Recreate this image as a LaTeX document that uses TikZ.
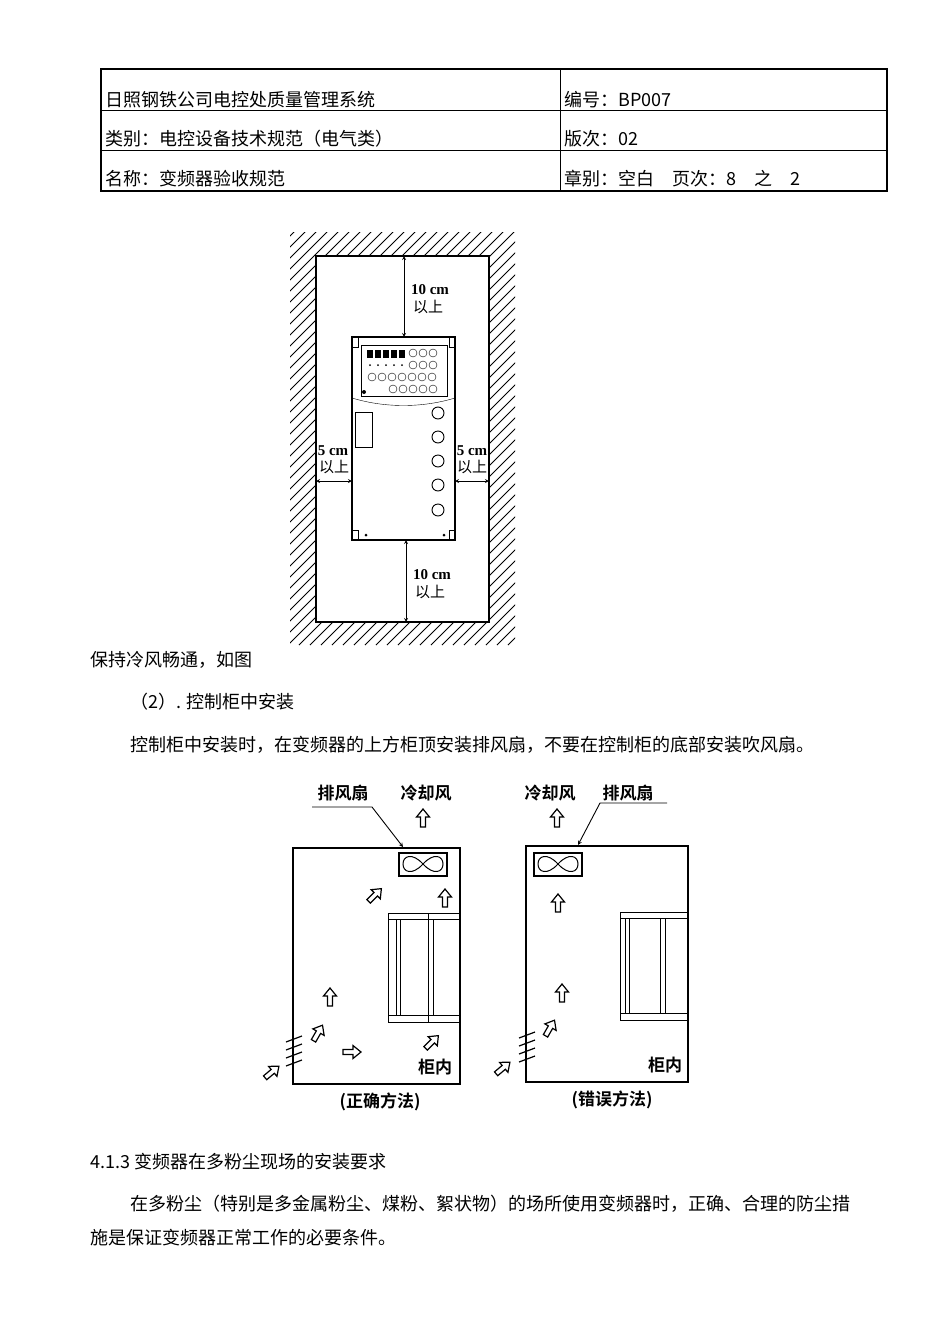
\documentclass[tikz,border=0pt]{standalone}
\usepackage{fontspec}
\setmainfont{Noto Sans CJK SC}
\newfontfamily\cjkb{Noto Sans CJK SC}[BoldFont={* Bold}]
\newfontfamily\serifn{Liberation Serif}
\begin{document}
\begin{tikzpicture}[x=1pt,y=-1pt,
  txt/.style={anchor=west,inner sep=0pt,font=\fontsize{18}{20}\selectfont},
  lab/.style={inner sep=0pt,font=\fontsize{15}{16}\selectfont\bfseries},
  dimarr/.style={<->,>=stealth,line width=0.8pt},
  thk/.style={line width=1.6pt},
  hol/.style={draw,line width=1.2pt,fill=white}]
\useasboundingbox (0,0) rectangle (950,1344);
\newcommand{\harrow}[3]{\draw[hol,shift={(#1,#2)},rotate=#3] (-9,-2.5)--(1,-2.5)--(1,-6.5)--(9,0)--(1,6.5)--(1,2.5)--(-9,2.5)--cycle;}
% header table
\draw[line width=2.5pt] (101,69) rectangle (887,191);
\draw[line width=0.8pt] (101,110)--(887,110) (101,150)--(887,150) (560,69)--(560,191);
\node[txt] (h1) at (105,100) {日照钢铁公司电控处质量管理系统};
\node[txt] (h2) at (105,139) {类别：电控设备技术规范（电气类）};
\node[txt] (h3) at (105,179) {名称：变频器验收规范};
\node[txt] (h4) at (564,100) {编号：BP007};
\node[txt] (h5) at (564,139) {版次：02};
\node[txt] (h6) at (564,179) {章别：空白\quad 页次：8\quad 之\quad 2};
% hatched wall
\begin{scope}
\clip (290,232) rectangle (515,645);
\foreach \i in {0,11,...,660} {\draw[line width=0.9pt] (290+\i-420,645)--(290+\i,225);}
\end{scope}
\fill[white] (316,256) rectangle (489,622);
\draw[thk] (316,256) rectangle (489,622);
% inverter
\draw[thk] (352,337) rectangle (455,540);
\draw[line width=1pt] (361,345) rectangle (447,396);
\draw (352,398) .. controls (385,408) and (422,408) .. (455,398);
\foreach \x in {367,375,383,391,399} {\fill (\x,350) rectangle ++(6,8);}
\foreach \x in {413,423,433} {\draw (\x,353) circle (4); \draw (\x,365) circle (4);}
\foreach \x in {368,376,384,392,400} \fill (\x+2,365) circle (1);
\foreach \x in {372,382,...,433} \draw (\x,377) circle (4);
\foreach \x in {393,403,...,433} \draw (\x,389) circle (4);
\fill (364,392) circle (2);
\draw[line width=1pt] (355,412) rectangle (372,447);
\foreach \y in {413,437,461,485,510} \draw[line width=0.9pt] (438,\y) circle (6);
\fill (366,535) circle (1.5) (444,535) circle (1.5);
\draw (352,530)--(358,530)--(358,540) (455,530)--(449,530)--(449,540);
\draw (352,347)--(358,347)--(358,337) (455,347)--(449,347)--(449,337);
% dims
\coordinate (t1) at (404,256); \coordinate (t2) at (404,337);
\coordinate (b1) at (406,540); \coordinate (b2) at (406,622);
\coordinate (l1) at (316,481); \coordinate (l2) at (352,481);
\coordinate (r1) at (455,481); \coordinate (r2) at (489,481);
\draw[dimarr] (t1)--(t2); \draw[dimarr] (b1)--(b2);
\draw[dimarr] (l1)--(l2); \draw[dimarr] (r1)--(r2);
\node[lab] (d1) at (430,290) {\serifn\bfseries 10 cm};
\node[lab,font=\fontsize{15}{16}\selectfont] (d1b) at (428,307) {以上};
\node[lab] (d2) at (432,575) {\serifn\bfseries 10 cm};
\node[lab,font=\fontsize{15}{16}\selectfont] (d2b) at (430,592) {以上};
\node[lab] (d3) at (333,451) {\serifn\bfseries 5 cm};
\node[lab,font=\fontsize{15}{16}\selectfont] (d3b) at (334,467) {以上};
\node[lab] (d4) at (472,451) {\serifn\bfseries 5 cm};
\node[lab,font=\fontsize{15}{16}\selectfont] (d4b) at (472,467) {以上};
% texts
\node[txt] (p1) at (90,660) {保持冷风畅通，如图};
\node[txt] (p2) at (130,702) {（2）. 控制柜中安装};
\node[txt] (p3) at (130,745) {控制柜中安装时，在变频器的上方柜顶安装排风扇，不要在控制柜的底部安装吹风扇。};
% left cabinet
\draw[thk] (293,848) rectangle (460,1084);
\draw[line width=1.3pt] (399,853) rectangle (447,876);
\draw[line width=1pt] (423,864) .. controls (412,852) and (403,856) .. (403,864) .. controls (403,872) and (412,876) .. (423,864) .. controls (434,852) and (443,856) .. (443,864) .. controls (443,872) and (434,876) .. (423,864);
\draw[line width=1pt] (388,913) rectangle (459,1022) (388,919)--(459,919) (388,1015)--(459,1015)
 (396,919)--(396,1015) (400,919)--(400,1015) (428,913)--(428,1022) (433,919)--(433,1015);
\node[lab,font=\fontsize{17}{18}\selectfont\cjkb\bfseries] (f1) at (343,793) {排风扇};
\node[lab,font=\fontsize{17}{18}\selectfont\cjkb\bfseries] (c1) at (426,793) {冷却风};
\coordinate (u1) at (312,807); \coordinate (u2) at (372,807); \coordinate (u3) at (403,847);
\draw[line width=0.9pt,->,>=stealth] (u1)--(u2)--(u3);
\harrow{423}{818}{90}
\harrow{375}{895}{45} \harrow{445}{898}{90} \harrow{330}{997}{90}
\harrow{318}{1033}{60} \harrow{352}{1052}{0} \harrow{432}{1042}{45} \harrow{272}{1072}{40}
\foreach \y in {1039,1047,1055,1063} \draw[line width=1.2pt] (286,\y+3)--(302,\y-3);
\node[lab,font=\fontsize{17}{18}\selectfont\cjkb\bfseries] (k1) at (435,1067) {柜内};
\node[lab,font=\fontsize{17}{18}\selectfont\cjkb\bfseries] (m1) at (380,1102) {(正确方法)};
% right cabinet
\draw[thk] (526,846) rectangle (688,1082);
\draw[line width=1.3pt] (534,853) rectangle (582,876);
\draw[line width=1pt] (558,864) .. controls (547,852) and (538,856) .. (538,864) .. controls (538,872) and (547,876) .. (558,864) .. controls (569,852) and (578,856) .. (578,864) .. controls (578,872) and (569,876) .. (558,864);
\draw[line width=1pt] (620,912) rectangle (688,1020) (620,918)--(688,918) (620,1013)--(688,1013)
 (625,918)--(625,1013) (629,918)--(629,1013) (660,918)--(660,1013) (665,918)--(665,1013);
\node[lab,font=\fontsize{17}{18}\selectfont\cjkb\bfseries] (c2) at (550,793) {冷却风};
\node[lab,font=\fontsize{17}{18}\selectfont\cjkb\bfseries] (f2) at (628,793) {排风扇};
\coordinate (v1) at (667,803); \coordinate (v2) at (600,803); \coordinate (v3) at (578,845);
\draw[line width=0.9pt,->,>=stealth] (v1)--(v2)--(v3);
\harrow{557}{818}{90}
\harrow{558}{903}{90} \harrow{562}{993}{90} \harrow{550}{1028}{60} \harrow{503}{1068}{40}
\foreach \y in {1035,1043,1051,1059} \draw[line width=1.2pt] (519,\y+3)--(535,\y-3);
\node[lab,font=\fontsize{17}{18}\selectfont\cjkb\bfseries] (k2) at (665,1065) {柜内};
\node[lab,font=\fontsize{17}{18}\selectfont\cjkb\bfseries] (m2) at (612,1100) {(错误方法)};
% bottom text
\node[txt] (q1) at (90,1162) {4.1.3 变频器在多粉尘现场的安装要求};
\node[txt] (q2) at (130,1204) {在多粉尘（特别是多金属粉尘、煤粉、絮状物）的场所使用变频器时，正确、合理的防尘措};
\node[txt] (q3) at (90,1238) {施是保证变频器正常工作的必要条件。};
\end{tikzpicture}
\end{document}
